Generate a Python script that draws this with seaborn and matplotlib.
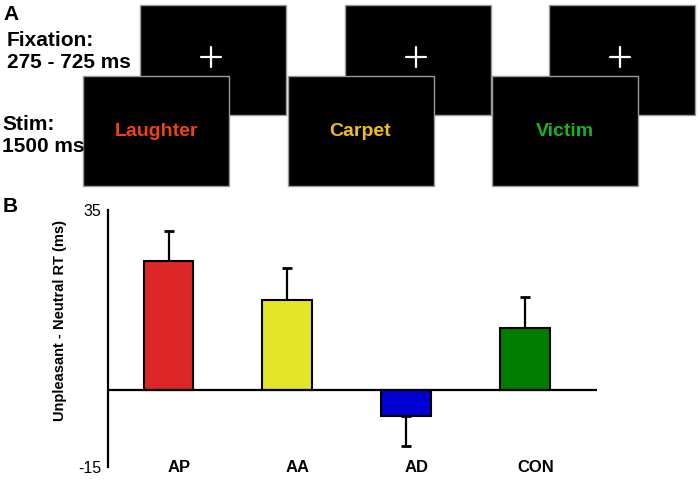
"""Figure : schéma de la tâche (A) et différence de TR (B)."""

import matplotlib
matplotlib.use("Agg")
import matplotlib.pyplot as plt
import matplotlib.patches as mpatches
import matplotlib.transforms as mtransforms
import seaborn as sns

# =========================
# DONNÉES
# =========================
conditions = ["AP", "AA", "AD", "CON"]
rt_diff = [25, 17.5, -5, 12]
rt_sem = [6, 6.2, 6, 6]
bar_colors = ["#dd2626", "#e4e42a", "#0000d2", "#007d00"]

words = ["Laughter", "Carpet", "Victim"]
word_colors = ["#ee4318", "#f0bd1a", "#1cb41c"]

y_ticks = [-15, 35]


def draw_task_panel(fig):
    # axe en pixels pour le schéma
    ax = fig.add_axes([0, 0, 1, 1])
    ax.set_xlim(0, 700)
    ax.set_ylim(480, 0)
    ax.axis("off")

    box_w, box_h = 146, 110
    step = 204.5
    for i, (word, col) in enumerate(zip(words, word_colors)):
        sx, sy = 83 + step * i, 76
        fx, fy = sx + 57, 5
        # écran de fixation (derrière)
        ax.add_patch(mpatches.Rectangle((fx, fy), box_w, box_h, facecolor="black",
                                        edgecolor="#9a9a9a", lw=1, zorder=1))
        cx, cy = fx + box_w / 2 - 2, fy + box_h / 2 - 3
        ax.plot([cx - 10, cx + 10], [cy, cy], color="white", lw=1.6, zorder=2)
        ax.plot([cx, cx], [cy - 10, cy + 10], color="white", lw=1.6, zorder=2)
        # écran du stimulus (devant)
        ax.add_patch(mpatches.Rectangle((sx, sy), box_w, box_h, facecolor="black",
                                        edgecolor="#9a9a9a", lw=1, zorder=3))
        ax.text(sx + box_w / 2, sy + box_h / 2, word, color=col, fontsize=14,
                fontweight="bold", ha="center", va="center", zorder=4)

    txt = dict(fontsize=15, fontweight="bold", va="center", ha="left", color="black")
    ax.text(3, 14, "A", **txt)
    ax.text(7, 41, "Fixation:", **txt)
    ax.text(7, 63, "275 - 725 ms", **txt)
    ax.text(2, 124, "Stim:", **txt)
    ax.text(2, 147, "1500 ms", **txt)
    ax.text(3, 207, "B", **txt)


def draw_rt_panel(fig):
    ax = fig.add_axes([108 / 700, 13 / 480, 489 / 700, 257 / 480])
    ax.set_facecolor("none")

    sns.barplot(x=conditions, y=rt_diff, hue=conditions, palette=bar_colors,
                legend=False, width=0.42, edgecolor="black", linewidth=1.5,
                saturation=1, ax=ax, zorder=3)

    # barres d'erreur d'un seul côté
    lower = [e if v < 0 else 0 for v, e in zip(rt_diff, rt_sem)]
    upper = [e if v >= 0 else 0 for v, e in zip(rt_diff, rt_sem)]
    ax.errorbar(range(len(conditions)), rt_diff, yerr=[lower, upper], fmt="none",
                ecolor="black", elinewidth=1.6, capsize=3.5, capthick=2, zorder=2)

    ax.axhline(0, color="black", lw=1.6, zorder=4)
    ax.set_xlim(-0.51, 3.61)
    ax.set_ylim(-15, 35)

    for s in ["top", "right", "bottom"]:
        ax.spines[s].set_visible(False)
    ax.spines["left"].set_linewidth(1.6)
    ax.spines["left"].set_color("black")

    ax.set_yticks(y_ticks)
    ax.set_yticklabels([str(t) for t in y_ticks], fontsize=11.5)
    ax.tick_params(axis="y", length=0, pad=5)
    ax.set_xticks([])
    ax.set_xlabel("")

    trans = mtransforms.blended_transform_factory(ax.transData, ax.transAxes)
    for i, c in enumerate(conditions):
        ax.text(i + 0.09, 0.0, c, transform=trans, fontsize=12, fontweight="bold",
                ha="center", va="center", color="black")

    ax.set_ylabel("Unpleasant - Neutral RT (ms)", fontsize=10.5, fontweight="bold")
    ax.yaxis.set_label_coords(-0.084, 0.57)


def main():
    sns.set_style("white")
    plt.rcParams["font.family"] = ["Liberation Sans", "DejaVu Sans"]
    for key in ["text.color", "axes.labelcolor", "xtick.color", "ytick.color"]:
        plt.rcParams[key] = "black"

    fig = plt.figure(figsize=(7, 4.8), dpi=100)
    draw_task_panel(fig)
    draw_rt_panel(fig)
    fig.savefig("out.png", dpi=100)


if __name__ == "__main__":
    main()
